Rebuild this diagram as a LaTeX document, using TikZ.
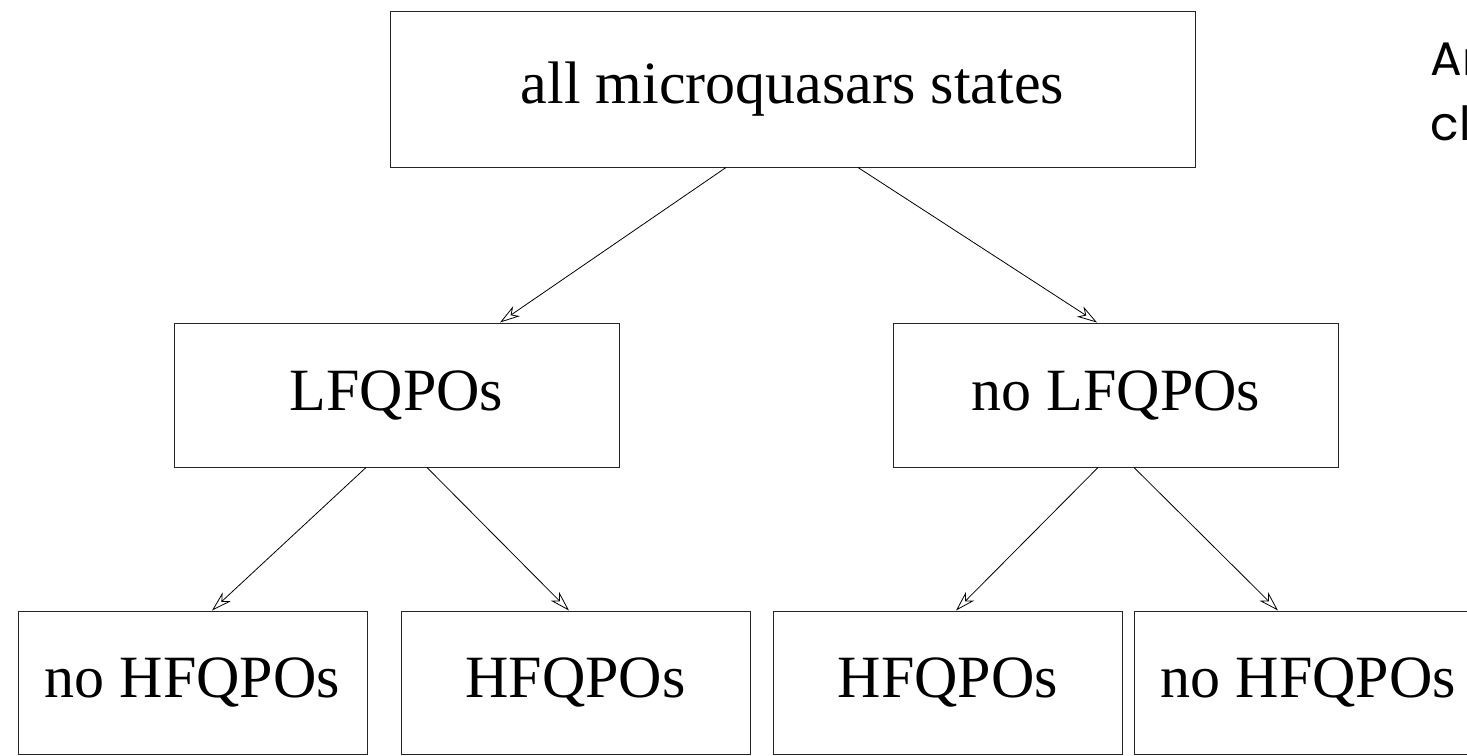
\documentclass[tikz,border=0pt]{standalone}
\usepackage{fontspec}
\setmainfont{Liberation Serif}
\newfontfamily\notefont{Poppins}
\usetikzlibrary{arrows.meta, calc}

\begin{document}
\begin{tikzpicture}[x=1pt, y=-1pt,
    box/.style={draw=black!85, line width=1pt, inner sep=0pt, font=\fontsize{60}{72}\selectfont},
    flow/.style={-{Stealth[open, length=20pt, width=12pt, inset=6pt]}, line width=0.8pt},
    note/.style={anchor=base west, font=\notefont\fontsize{47}{56}\selectfont}]
    \useasboundingbox (0,0) rectangle (1467,755);
    \clip (0,0) rectangle (1467,755);

    % top level
    \node[box, minimum width=805pt, minimum height=156pt] (all) at (792.5,89) {all microquasars states};

    % LFQPO split
    \node[box, minimum width=445pt, minimum height=144pt] (lf) at (396.5,395) {LFQPOs};
    \node[box, minimum width=445pt, minimum height=144pt] (nolf) at (1116,395) {no LFQPOs};

    % HFQPO split
    \node[box, minimum width=349pt, minimum height=143pt] (lfnohf) at (192.5,682.5) {no HFQPOs};
    \node[box, minimum width=349pt, minimum height=143pt] (lfhf) at (575.5,682.5) {HFQPOs};
    \node[box, minimum width=349pt, minimum height=143pt] (nolfhf) at (948,682.5) {HFQPOs};
    \node[box, minimum width=349pt, minimum height=143pt] (nolfnohf) at (1308.5,682.5) {no HFQPOs};

    \draw[flow] ($(all.south)+(-66.5,0)$) -- ($(lf.north)+(103.5,0)$);
    \draw[flow] ($(all.south)+(65.5,0)$) -- ($(nolf.north)+(-19,0)$);
    \draw[flow] ($(lf.south)+(-30.5,0)$) -- ($(lfnohf.north)+(19.5,0)$);
    \draw[flow] ($(lf.south)+(30.5,0)$) -- ($(lfhf.north)+(-6.5,0)$);
    \draw[flow] ($(nolf.south)+(-18,0)$) -- ($(nolfhf.north)+(8,0)$);
    \draw[flow] ($(nolf.south)+(18,0)$) -- ($(nolfnohf.north)+(-30.5,0)$);

    % side note, cut off at the page edge
    \node[note] (note1) at (1427,75) {An};
    \node[note] (note2) at (1427,140) {cl};
\end{tikzpicture}
\end{document}
